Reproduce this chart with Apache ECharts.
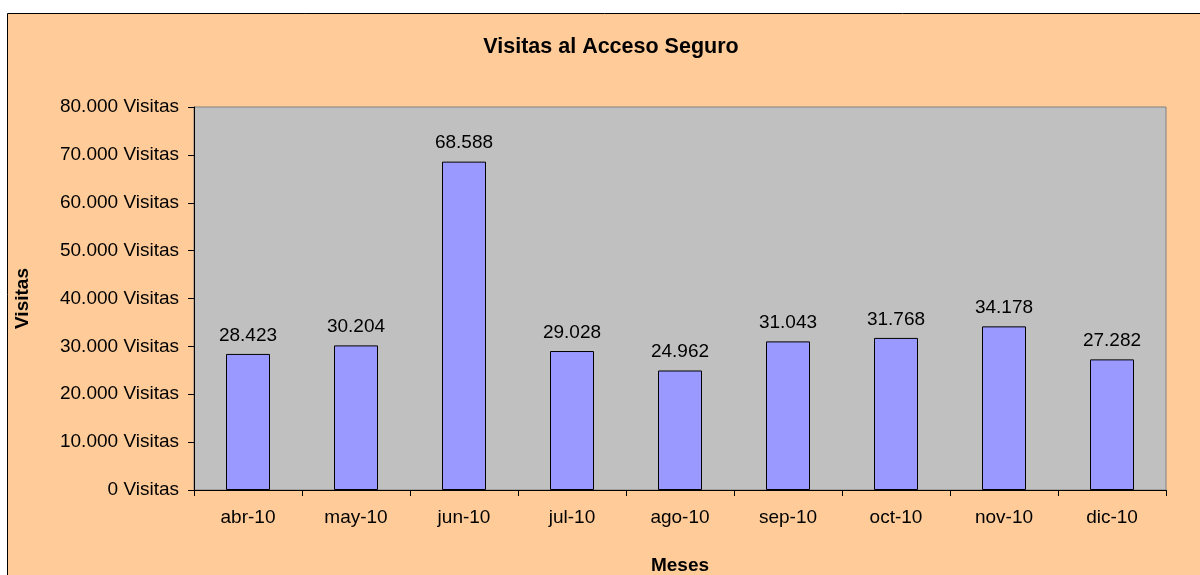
<!DOCTYPE html>
<html>
<head>
<meta charset="utf-8">
<script src="https://cdn.jsdelivr.net/npm/echarts@6/dist/echarts.min.js"></script>
<style>
html,body{margin:0;padding:0;background:#fff;}
#chart{width:1200px;height:575px;}
</style>
</head>
<body>
<div id="chart"></div>
<script>
const categories = ['abr-10','may-10','jun-10','jul-10','ago-10','sep-10','oct-10','nov-10','dic-10'];
const visitas = [28423, 30204, 68588, 29028, 24962, 31043, 31768, 34178, 27282];
const titleText = 'Visitas al Acceso Seguro';
const yName = 'Visitas';
const xName = 'Meses';

function fmt(v){
  return String(v).replace(/\B(?=(\d{3})+(?!\d))/g, '.');
}

const chart = echarts.init(document.getElementById('chart'));
const FONT = '"Liberation Sans", Arial, sans-serif';
chart.setOption({
  backgroundColor: '#ffffff',
  animation: false,
  textStyle: {fontFamily: FONT},
  graphic: [{
    type: 'rect',
    z: -10,
    silent: true,
    shape: {x: 7.5, y: 13.5, width: 1300, height: 700},
    style: {fill: '#FFCC99', stroke: '#000000', lineWidth: 1}
  }],
  title: {
    text: titleText,
    left: 606,
    textAlign: 'center',
    top: 31,
    textStyle: {fontFamily: FONT, fontSize: 21.5, fontWeight: 'bold', color: '#000'}
  },
  grid: {
    left: 194, top: 107, right: 34, bottom: 85,
    outerBoundsMode: 'none',
    containLabel: false,
    show: true,
    backgroundColor: '#C0C0C0',
    borderColor: '#808080',
    borderWidth: 1
  },
  xAxis: {
    type: 'category',
    data: categories,
    name: xName,
    nameLocation: 'middle',
    nameGap: 66,
    nameTextStyle: {fontFamily: FONT, fontSize: 19, fontWeight: 'bold', color: '#000'},
    axisLine: {lineStyle: {color: '#000', width: 1}},
    axisTick: {show: true, length: 6, lineStyle: {color: '#000'}},
    axisLabel: {fontFamily: FONT, fontSize: 19, color: '#000', margin: 18}
  },
  yAxis: {
    type: 'value',
    min: 0, max: 80000, interval: 10000,
    name: yName,
    nameLocation: 'middle',
    nameGap: 162,
    nameTextStyle: {fontFamily: FONT, fontSize: 19, fontWeight: 'bold', color: '#000'},
    axisLine: {show: true, lineStyle: {color: '#000', width: 1}},
    axisTick: {show: true, length: 6, lineStyle: {color: '#000'}},
    splitLine: {show: false},
    axisLabel: {
      fontFamily: FONT, fontSize: 19, color: '#000', margin: 15,
      formatter: function(v){ return fmt(v) + ' Visitas'; }
    }
  },
  series: [{
    type: 'bar',
    data: visitas,
    barWidth: 44,
    itemStyle: {color: '#9999FF', borderColor: '#000', borderWidth: 1},
    label: {
      show: true, position: 'top', distance: 9,
      fontFamily: FONT, fontSize: 19, color: '#000',
      formatter: function(p){ return fmt(p.value); }
    }
  }]
});
</script>
</body>
</html>
